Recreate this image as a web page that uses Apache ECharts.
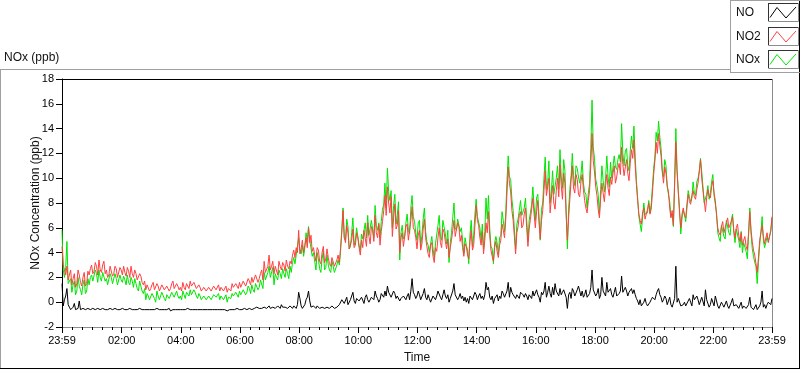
<!DOCTYPE html>
<html><head><meta charset="utf-8">
<script src="https://cdn.jsdelivr.net/npm/echarts@6.0.0/dist/echarts.min.js"></script>
<style>html,body{margin:0;padding:0;background:#fff;}#c{width:800px;height:369px;}</style>
</head><body><div id="c"></div>
<script>
// time axis: minutes after midnight, first sample at 23:59 of the previous day
const startMinute = -1;
const stepMinutes = 5;

// readings at startMinute + i*stepMinutes
const no2 = [
4.5,2.6,2.9,2.2,1.4,2.3,1.5,2.2,1.3,2.4,1.5,2.2,
3.0,2.5,2.9,3.4,2.4,3.3,2.6,2.2,2.8,2.3,2.7,2.1,
2.6,2.9,2.1,2.5,2.9,2.0,2.3,1.7,2.1,1.4,1.0,1.3,
1.1,1.6,0.9,1.3,1.0,1.5,0.9,1.4,1.1,1.7,1.0,1.3,
1.2,1.6,1.0,1.4,1.7,1.2,1.5,1.0,1.2,0.9,1.3,0.9,
1.3,1.0,1.4,1.1,0.9,1.3,1.0,0.8,1.2,1.5,1.1,1.4,
1.6,1.3,1.8,1.4,1.7,2.0,1.6,2.1,1.9,2.6,3.3,2.5,
3.8,2.9,2.3,2.8,3.3,2.6,3.0,3.4,2.7,3.1,4.2,4.4,
5.8,4.3,4.0,5.2,6.0,5.4,4.4,3.3,4.2,3.1,4.5,3.5,
3.6,2.9,3.5,2.8,3.8,4.4,7.4,4.8,5.6,4.2,5.9,4.6,
5.2,3.8,4.4,5.7,6.4,4.7,5.8,7.0,5.2,4.6,6.5,8.6,
9.3,7.2,5.3,7.9,6.2,4.0,5.6,4.6,6.3,4.9,7.7,5.8,
4.3,5.8,4.7,6.7,4.5,3.6,4.8,3.2,4.1,6.0,4.4,5.6,
4.3,3.6,5.0,6.6,5.2,6.1,5.4,3.7,4.5,3.5,5.8,4.6,
7.8,6.2,4.6,3.9,6.4,7.3,4.2,3.3,4.9,3.6,5.0,5.8,
6.7,10.9,8.9,6.6,3.9,6.1,7.3,6.2,7.6,4.5,6.7,8.4,
6.0,8.2,5.1,7.4,10.6,8.7,7.2,9.4,7.5,10.0,11.1,8.3,
9.6,5.0,8.3,11.0,8.8,9.9,8.5,10.3,8.2,7.2,9.0,13.6,
10.5,8.6,6.8,9.6,8.1,10.3,8.6,9.5,11.0,10.1,11.2,12.5,
10.2,11.5,9.8,12.3,13.1,9.5,7.1,6.3,7.6,6.8,8.0,7.5,
10.3,12.9,13.6,11.8,9.6,10.4,8.9,6.8,6.2,12.9,8.8,6.0,
7.6,6.8,8.7,7.9,9.0,8.3,9.6,11.5,9.0,7.3,9.1,8.4,
9.8,8.2,6.0,5.4,6.5,5.7,6.8,5.9,6.9,5.2,6.3,4.9,
4.6,5.3,4.2,7.3,4.9,3.8,2.4,5.0,6.2,4.7,5.6,4.9,6.9
];
// readings half a step later (between the readings above)
const no2Between = [
3.0,2.2,1.8,2.6,1.9,1.2,2.6,1.6,2.0,1.3,2.5,2.7,
2.3,3.2,2.2,2.6,3.0,2.3,2.0,2.9,2.1,2.9,2.0,2.8,
2.2,2.4,2.8,2.0,2.3,2.6,1.8,2.3,1.6,1.7,1.4,0.9,
1.4,1.0,1.5,0.9,1.4,1.0,1.3,0.9,1.5,1.1,1.5,1.0,
0.9,1.2,1.5,1.1,1.3,1.6,1.1,1.4,0.9,1.2,0.9,1.2,
0.9,1.3,1.0,1.4,1.2,0.9,1.3,1.1,0.9,1.2,1.5,1.1,
1.2,1.7,1.3,1.9,1.4,1.6,2.2,1.6,2.3,1.8,2.4,2.9,
2.6,3.3,2.9,2.2,2.9,3.2,2.5,2.9,3.3,3.8,3.6,4.0,
3.9,5.0,4.6,4.4,4.8,4.1,3.8,4.4,3.3,4.0,3.2,4.3,
3.1,3.6,2.9,3.4,3.2,5.6,5.2,6.2,4.3,5.0,4.4,5.6,
4.4,5.0,5.8,4.5,5.3,6.1,4.9,5.6,6.3,5.7,7.4,7.0,
8.0,8.5,6.8,5.9,7.4,5.2,4.5,6.1,5.0,6.6,6.0,5.2,
5.4,4.2,5.9,5.2,3.9,4.6,3.7,4.4,5.2,4.8,5.9,4.9,
5.1,4.4,5.8,5.3,6.4,4.9,4.4,4.7,3.8,4.9,4.2,6.2,
6.6,5.2,5.7,5.0,5.6,5.4,3.7,4.4,4.1,4.6,6.3,5.2,
8.8,9.6,7.4,5.3,5.6,7.0,6.0,7.1,6.0,5.9,7.5,7.1,
7.3,6.4,6.6,9.0,8.6,10.0,8.4,8.0,9.0,8.5,9.4,10.4,
7.0,6.8,9.8,9.2,10.3,8.7,9.7,9.1,7.6,8.2,11.1,11.4,
9.3,7.5,8.4,8.8,9.4,9.2,10.1,10.4,9.6,10.8,10.3,11.1,
10.9,10.4,11.2,11.6,11.0,8.2,6.6,7.2,6.7,7.5,7.1,8.8,
11.4,12.0,12.6,10.5,10.9,9.4,7.6,7.4,9.4,10.5,7.2,7.1,
7.0,7.9,8.1,8.6,8.5,9.1,10.6,10.0,8.2,8.4,8.6,9.3,
8.8,7.0,5.6,6.1,5.6,6.4,6.0,6.5,5.8,6.0,5.4,5.6,
5.0,4.5,5.6,5.8,4.2,3.1,3.6,5.6,5.3,5.2,4.8,5.8
];

const nox = [
5.8,2.0,4.9,1.5,0.8,1.7,0.9,1.3,0.6,1.8,0.9,1.4,
2.2,1.8,2.3,2.6,1.7,2.5,1.9,1.5,2.0,1.4,1.9,1.3,
1.8,2.1,1.4,1.6,2.0,1.2,1.5,0.9,1.3,0.7,0.2,0.5,
0.2,0.6,0.0,0.5,0.3,0.7,0.1,0.6,0.4,0.9,0.3,0.5,
0.5,0.9,0.3,0.8,1.0,0.6,0.8,0.3,0.5,0.2,0.4,0.1,
0.6,0.4,0.7,0.4,0.2,0.6,0.3,0.0,0.5,0.7,0.4,0.8,
0.9,0.7,1.1,0.8,1.1,1.4,0.8,1.5,1.2,1.9,2.4,1.8,
2.9,2.1,1.4,2.0,2.6,1.9,2.3,2.7,1.9,2.4,3.6,3.8,
5.2,3.9,3.7,5.6,6.1,5.0,4.0,2.6,3.5,2.4,4.1,2.8,
3.0,2.4,2.9,2.4,3.4,4.1,7.6,5.0,6.1,4.5,6.8,5.0,
5.9,4.2,5.1,6.4,7.0,5.3,6.5,7.8,5.8,5.2,7.5,9.6,
10.8,8.2,6.0,8.7,7.0,3.4,6.2,5.3,7.1,5.5,8.6,6.5,
5.0,6.6,5.4,7.6,4.9,4.0,5.3,3.6,4.8,7.0,5.0,6.6,
4.7,3.2,5.6,8.0,5.8,6.6,6.0,3.9,4.6,3.1,6.6,5.4,
8.3,6.8,5.0,4.3,8.4,8.6,4.5,3.1,5.3,3.9,5.4,6.6,
7.2,11.8,9.9,7.4,4.3,6.7,8.2,6.9,8.4,4.9,7.2,9.3,
6.6,8.7,5.0,8.0,11.7,9.6,8.0,10.6,8.7,11.0,12.3,9.2,
10.6,4.3,9.1,12.0,9.4,10.8,9.6,11.4,8.9,7.6,9.6,16.3,
11.6,9.4,7.1,11.0,8.9,11.8,9.3,10.0,11.8,10.7,11.9,14.4,
11.0,12.4,10.6,13.4,14.2,9.8,6.9,5.7,8.0,7.0,8.2,7.9,
10.8,13.7,14.6,12.4,10.1,11.0,9.3,6.9,6.1,14.0,9.0,5.5,
7.4,6.5,9.0,8.1,9.7,8.6,10.0,11.6,9.3,7.9,9.4,8.8,
10.3,8.5,5.6,4.9,6.3,5.1,6.5,5.4,7.1,4.8,5.9,4.4,
4.0,4.8,3.5,7.6,4.3,3.2,1.5,4.6,6.9,4.4,5.3,4.8,6.8
];
const noxBetween = [
2.6,2.8,1.5,1.9,1.4,0.6,2.0,1.0,1.4,0.7,1.9,2.0,
1.7,2.6,1.6,2.0,2.4,1.7,1.4,2.3,1.5,2.3,1.4,2.2,
1.6,1.8,2.2,1.4,1.7,1.9,1.1,1.7,0.9,1.1,0.7,0.2,
0.7,0.3,0.9,0.2,0.8,0.3,0.6,0.3,0.8,0.4,0.9,0.3,
0.2,0.6,0.8,0.5,0.6,1.0,0.5,0.7,0.2,0.5,0.2,0.5,
0.2,0.6,0.4,0.7,0.5,0.2,0.6,0.4,0.3,0.5,0.8,0.4,
0.6,1.0,0.6,1.3,0.7,1.0,1.5,1.0,1.8,1.1,1.8,2.4,
2.0,2.8,2.3,1.8,2.3,2.7,2.0,2.3,2.9,3.2,3.1,3.7,
4.2,4.6,4.4,4.9,5.0,3.7,3.3,4.0,2.7,3.5,2.6,3.8,
2.6,3.3,2.4,3.0,3.0,5.9,5.2,6.7,4.3,5.6,4.6,6.0,
4.6,5.5,5.8,5.2,5.4,6.6,5.2,6.2,6.4,6.5,7.9,7.6,
8.9,9.0,7.8,6.3,8.1,5.6,5.1,6.4,5.8,7.6,6.9,5.6,
6.4,4.5,6.7,5.7,4.6,4.7,4.3,4.7,6.2,5.3,6.6,5.5,
5.8,4.8,6.8,6.0,6.7,5.7,5.0,5.2,4.2,5.5,4.5,7.1,
6.9,6.0,6.3,5.7,6.7,5.9,4.3,4.8,4.8,5.2,7.3,5.7,
9.8,10.1,8.3,5.9,6.3,7.4,7.0,7.6,6.6,6.6,7.9,7.7,
8.4,6.9,7.5,10.0,9.1,11.4,8.9,8.7,10.0,9.1,10.1,11.5,
7.5,7.5,10.2,10.2,11.0,10.1,10.3,9.6,8.7,8.8,12.4,12.5,
9.9,8.7,9.1,9.8,10.0,10.1,11.3,10.9,10.9,11.5,11.3,12.0,
12.2,11.0,12.2,12.4,11.7,8.4,6.9,6.8,7.1,7.2,7.2,9.3,
11.7,13.0,13.3,10.6,11.5,9.3,8.1,7.1,9.8,10.6,7.5,6.8,
7.1,7.6,8.5,8.4,8.8,9.7,10.5,10.5,8.0,8.7,8.3,9.7,
8.6,7.2,5.2,6.2,5.3,6.6,5.6,6.6,5.6,5.9,5.0,5.7,
4.8,4.1,5.5,5.5,3.7,2.9,3.2,5.7,5.0,4.8,4.9,5.7
];

const no = [
1.5,0.2,1.1,-0.4,-0.5,-0.1,-0.6,0.1,-0.6,-0.4,-0.6,-0.5,
-0.6,-0.5,-0.6,-0.4,-0.6,-0.5,-0.6,-0.5,-0.6,-0.6,-0.4,-0.6,
-0.6,-0.5,-0.6,-0.6,-0.4,-0.6,-0.5,-0.6,-0.6,-0.6,-0.7,-0.6,
-0.7,-0.6,-0.6,-0.6,-0.6,-0.5,-0.6,-0.6,-0.7,-0.6,-0.6,-0.6,
-0.6,-0.6,-0.6,-0.5,-0.6,-0.6,-0.6,-0.6,-0.6,-0.6,-0.6,-0.6,
-0.6,-0.6,-0.6,-0.6,-0.6,-0.6,-0.6,-0.7,-0.6,-0.6,-0.6,-0.5,
-0.6,-0.6,-0.5,-0.6,-0.5,-0.6,-0.5,-0.4,-0.5,-0.5,-0.4,-0.5,
-0.3,-0.5,-0.4,-0.5,-0.3,-0.2,-0.5,-0.4,-0.5,-0.4,-0.3,-0.5,
0.8,-0.3,-0.4,0.2,0.9,-0.4,-0.3,-0.5,-0.4,-0.5,-0.3,-0.5,
-0.4,-0.5,-0.4,-0.5,-0.3,-0.1,0.3,0.0,-0.2,0.2,0.8,-0.1,
0.4,0.0,0.3,0.4,0.2,0.1,0.5,0.9,0.3,0.2,0.6,0.9,
1.3,0.9,0.4,0.7,0.5,0.1,0.3,0.6,0.5,0.2,1.9,0.6,
0.5,0.6,0.3,1.1,0.2,0.3,0.1,0.4,0.5,0.8,0.2,1.0,
0.3,0.0,0.4,1.5,0.5,0.4,0.3,0.1,0.0,-0.1,0.6,0.5,
0.6,0.5,0.3,0.2,1.6,1.2,0.2,-0.1,0.3,0.1,0.3,0.7,
0.5,1.6,1.2,0.6,0.3,0.5,0.8,0.6,0.7,0.2,0.6,0.9,
0.6,0.6,0.0,0.6,1.6,0.8,0.7,1.2,1.5,0.9,1.1,0.8,
0.9,-0.5,0.8,1.1,0.5,1.0,1.2,0.9,0.6,0.4,0.7,2.6,
0.9,0.7,0.3,2.0,0.8,1.6,0.7,0.6,0.8,0.5,0.7,2.1,
0.7,0.9,0.8,1.1,1.0,0.3,-0.2,-0.3,0.0,-0.1,-0.2,0.2,
0.5,0.6,1.1,0.4,0.2,0.3,0.1,-0.2,-0.3,2.9,0.3,-0.3,
-0.2,-0.3,0.1,0.0,0.6,0.1,0.2,-0.1,0.3,1.0,0.1,-0.2,
0.2,0.5,-0.3,-0.4,-0.2,-0.5,-0.3,-0.4,0.3,-0.4,-0.3,-0.5,
-0.5,-0.4,-0.6,0.4,-0.5,-0.5,-0.6,-0.3,0.9,-0.2,-0.2,-0.1,0.3
];
const noBetween = [
-0.3,0.5,-0.2,-0.6,-0.4,-0.6,-0.5,-0.6,-0.5,-0.6,-0.5,-0.6,
-0.5,-0.6,-0.5,-0.6,-0.5,-0.6,-0.6,-0.5,-0.6,-0.5,-0.6,-0.6,
-0.5,-0.6,-0.6,-0.5,-0.6,-0.6,-0.6,-0.5,-0.6,-0.6,-0.6,-0.6,
-0.6,-0.6,-0.5,-0.6,-0.6,-0.6,-0.6,-0.5,-0.6,-0.6,-0.6,-0.6,
-0.6,-0.5,-0.6,-0.6,-0.6,-0.6,-0.5,-0.6,-0.6,-0.6,-0.6,-0.6,
-0.6,-0.6,-0.5,-0.6,-0.6,-0.6,-0.6,-0.6,-0.5,-0.6,-0.6,-0.6,
-0.5,-0.6,-0.6,-0.5,-0.6,-0.5,-0.6,-0.5,-0.4,-0.6,-0.5,-0.4,
-0.5,-0.4,-0.5,-0.3,-0.5,-0.4,-0.4,-0.5,-0.3,-0.5,-0.4,-0.2,
0.3,-0.5,-0.2,0.4,0.1,-0.5,-0.4,-0.3,-0.5,-0.4,-0.5,-0.4,
-0.5,-0.3,-0.5,-0.4,-0.2,0.2,-0.1,0.4,-0.1,0.5,0.1,0.3,
0.1,0.4,-0.1,0.6,0.0,0.4,0.2,0.5,0.0,0.7,0.4,0.5,
0.8,0.4,0.9,0.3,0.6,0.3,0.5,0.2,0.7,0.9,0.8,0.3,
0.9,0.2,0.7,0.4,0.6,0.0,0.5,0.2,0.9,0.4,0.6,0.5,
0.6,0.3,0.9,0.6,0.2,0.7,0.5,0.4,0.3,0.5,0.2,0.8,
0.2,0.7,0.5,0.6,1.0,0.4,0.5,0.3,0.6,0.5,0.9,0.4,
0.9,0.4,0.8,0.5,0.6,0.3,0.9,0.4,0.5,0.6,0.3,0.5,
1.0,0.4,0.8,0.9,0.4,1.3,0.4,0.6,0.9,0.5,0.6,1.0,
0.4,0.6,0.3,0.9,0.6,1.3,0.5,0.4,1.0,0.5,1.2,1.0,
0.5,1.1,0.6,0.9,0.5,0.8,1.1,0.4,1.2,0.6,0.9,0.8,
1.2,0.5,0.9,0.7,0.6,0.1,0.2,-0.4,0.3,-0.3,0.0,0.4,
0.2,0.9,0.6,0.0,0.5,-0.2,0.4,-0.4,0.3,0.0,0.2,-0.4,
0.0,-0.4,0.3,-0.3,0.2,0.5,-0.2,0.4,-0.3,0.2,-0.4,0.3,
-0.3,0.1,-0.5,0.0,-0.4,0.1,-0.5,0.0,-0.3,-0.2,-0.5,0.0,
-0.3,-0.5,-0.2,-0.4,-0.6,-0.2,-0.5,0.0,-0.4,-0.5,0.0,-0.2
];

const xLabelMinutes = [-1,120,240,360,480,600,720,840,960,1080,1200,1320,1439];
const xTickLabels = ['23:59','02:00','04:00','06:00','08:00','10:00','12:00','14:00','16:00','18:00','20:00','22:00','23:59'];
const legendNames = ['NO','NO2','NOx'];
const seriesColors = {NO:'#000000', NO2:'#ff4040', NOx:'#00e600'};

const minorMinutes = [];
for (let m = 20; m < 1440; m += 20) { if (m % 120 !== 0) minorMinutes.push(m); }

// merge the on-step readings and the half-step readings into one time-ordered list
const toPairs = (main, between) => {
  const out = [];
  main.forEach((v, i) => {
    const t = startMinute + i * stepMinutes;
    out.push([t, v]);
    if (i < between.length) out.push([t + stepMinutes / 2, between[i]]);
  });
  return out;
};
const font = '"Liberation Sans", Arial, sans-serif';

const chart = echarts.init(document.getElementById('c'), null, {renderer:'canvas'});

const L = (x1,y1,x2,y2,c) => ({type:'line', silent:true, shape:{x1,y1,x2,y2}, style:{stroke:c, lineWidth:1}});
const T = (x,y,txt) => ({type:'text', x, y, silent:true, style:{text:txt, fill:'#111', font:'12px '+font, textAlign:'left', textVerticalAlign:'middle', verticalAlign:'middle'}});

const graphics = [
  L(0,69.5,730,69.5,'#a0a0a0'),
  L(0.5,69,0.5,369,'#a0a0a0'),
  L(0,368.5,800,368.5,'#000'),
  L(799.5,0,799.5,369,'#000'),
  L(62,79.5,772,79.5,'#000'),
  L(772.5,79,772.5,330,'#8c8c8c'),
  L(730.5,0,730.5,73,'#a0a0a0'),
  L(730,72.5,800,72.5,'#a0a0a0'),
  L(730,0.5,800,0.5,'#a0a0a0'),
  T(4,58,'NOx (ppb)')
];
const boxTops = [3, 27, 50];
legendNames.forEach((n, k) => {
  const y0 = boxTops[k];
  graphics.push(T(736, y0 + 10, n));
  graphics.push({type:'rect', silent:true, shape:{x:768.5, y:y0+0.5, width:30, height:18}, style:{fill:'#fff', stroke:'#8c8c8c', lineWidth:1}});
  graphics.push(L(768,y0+0.5,798,y0+0.5,'#333'));
  graphics.push(L(768.5,y0,768.5,y0+18,'#333'));
  graphics.push({type:'polyline', silent:true, shape:{points:[[770,y0+14.5],[777,y0+4.5],[786,y0+15],[796,y0+4]]}, style:{stroke:seriesColors[n], lineWidth:1, fill:null}});
});

chart.setOption({
  animation:false,
  backgroundColor:'#fff',
  grid:{left:62, top:79, right:28, bottom:39, containLabel:false},
  xAxis:[{
    type:'value', min:-1, max:1439,
    name:'Time', nameLocation:'middle', nameGap:25, nameMoveOverlap:false,
    nameTextStyle:{fontFamily:font, fontSize:12, color:'#111'},
    axisLine:{show:true, onZero:false, lineStyle:{color:'#8c8c8c', width:1}},
    axisTick:{show:true, customValues:xLabelMinutes, length:6, lineStyle:{color:'#000'}},
    axisLabel:{show:true, customValues:xLabelMinutes, margin:8, fontFamily:font, fontSize:11, color:'#000',
      formatter: v => { const k = xLabelMinutes.indexOf(Math.round(v)); return k >= 0 ? xTickLabels[k] : ''; }},
    splitLine:{show:false}
  },{
    type:'value', min:-1, max:1439, position:'bottom', offset:0,
    axisLine:{show:false, onZero:false},
    axisTick:{show:true, customValues:minorMinutes, length:3, lineStyle:{color:'#000'}},
    axisLabel:{show:false}, splitLine:{show:false}
  }],
  yAxis:{
    type:'value', min:-2, max:18, interval:2,
    name:'NOx Concentration (ppb)', nameLocation:'middle', nameGap:20, nameRotate:90, nameMoveOverlap:false,
    nameTextStyle:{fontFamily:font, fontSize:12, color:'#111'},
    axisLine:{show:true, onZero:false, lineStyle:{color:'#000', width:1}},
    axisTick:{show:true, length:6, lineStyle:{color:'#000'}},
    axisLabel:{margin:8, fontFamily:font, fontSize:11, color:'#000'},
    splitLine:{show:false}
  },
  series:[
    {name:'NOx', type:'line', xAxisIndex:0, data:toPairs(nox, noxBetween), showSymbol:false, symbol:'none', lineStyle:{color:seriesColors.NOx, width:1}, z:2},
    {name:'NO2', type:'line', xAxisIndex:0, data:toPairs(no2, no2Between), showSymbol:false, symbol:'none', lineStyle:{color:seriesColors.NO2, width:1}, z:3},
    {name:'NO', type:'line', xAxisIndex:0, data:toPairs(no, noBetween), showSymbol:false, symbol:'none', lineStyle:{color:seriesColors.NO, width:1}, z:4}
  ],
  graphic:graphics
});
</script>
</body></html>
